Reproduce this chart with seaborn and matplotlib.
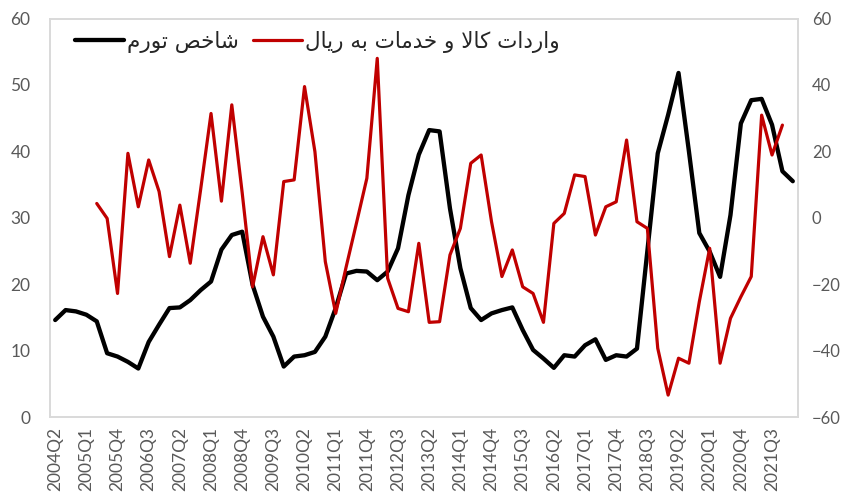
import numpy as np
import pandas as pd
import matplotlib
matplotlib.use("Agg")
import matplotlib.pyplot as plt
import seaborn as sns
from matplotlib.lines import Line2D

quarters = [
    "2004Q2", "2004Q3", "2004Q4",
    "2005Q1", "2005Q2", "2005Q3", "2005Q4",
    "2006Q1", "2006Q2", "2006Q3", "2006Q4",
    "2007Q1", "2007Q2", "2007Q3", "2007Q4",
    "2008Q1", "2008Q2", "2008Q3", "2008Q4",
    "2009Q1", "2009Q2", "2009Q3", "2009Q4",
    "2010Q1", "2010Q2", "2010Q3", "2010Q4",
    "2011Q1", "2011Q2", "2011Q3", "2011Q4",
    "2012Q1", "2012Q2", "2012Q3", "2012Q4",
    "2013Q1", "2013Q2", "2013Q3", "2013Q4",
    "2014Q1", "2014Q2", "2014Q3", "2014Q4",
    "2015Q1", "2015Q2", "2015Q3", "2015Q4",
    "2016Q1", "2016Q2", "2016Q3", "2016Q4",
    "2017Q1", "2017Q2", "2017Q3", "2017Q4",
    "2018Q1", "2018Q2", "2018Q3", "2018Q4",
    "2019Q1", "2019Q2", "2019Q3", "2019Q4",
    "2020Q1", "2020Q2", "2020Q3", "2020Q4",
    "2021Q1", "2021Q2", "2021Q3", "2021Q4",
    "2022Q1",
]

inflation = [
    14.6, 16.1, 15.9, 15.4, 14.4, 9.6, 9.1, 8.3, 7.3, 11.3,
    13.9, 16.4, 16.5, 17.6, 19.1, 20.4, 25.2, 27.4, 27.9, 19.9,
    15.1, 12.1, 7.6, 9.1, 9.3, 9.8, 12.1, 16.4, 21.6, 22.0,
    21.9, 20.6, 21.9, 25.4, 33.4, 39.5, 43.2, 43.0, 31.4, 22.4,
    16.4, 14.6, 15.6, 16.1, 16.5, 13.1, 10.1, 8.8, 7.4, 9.3,
    9.1, 10.8, 11.7, 8.6, 9.3, 9.1, 10.3, 25.0, 39.7, 45.5,
    51.8, 40.0, 27.7, 24.9, 21.1, 30.4, 44.2, 47.7, 47.9, 44.0,
    37.0, 35.5,
]

imports_rial = [
    np.nan, np.nan, np.nan, np.nan,
    4.3, -0.2, -22.8, 19.4, 3.3, 17.4, 7.9, -11.7, 3.8, -13.7,
    8.5, 31.4, 5.0, 34.0, 7.5, -20.8, -5.7, -17.2, 10.9, 11.4,
    39.5, 19.9, -13.2, -28.8, -14.9, -1.6, 11.9, 48.0, -18.2, -27.3,
    -28.3, -7.7, -31.5, -31.3, -11.2, -3.2, 16.4, 18.9, -1.2, -17.7,
    -9.7, -20.8, -22.8, -31.5, -1.7, 1.3, 12.9, 12.4, -5.2, 3.3,
    4.8, 23.4, -1.2, -3.2, -39.3, -53.4, -42.3, -43.8, -25.3, -9.2,
    -43.8, -30.3, -23.8, -17.7, 30.9, 18.9, 27.9,
    np.nan,
]

label_inflation = "شاخص تورم"
label_imports = "واردات کالا و خدمات به ریال"

left_ticks = [0, 10, 20, 30, 40, 50, 60]
right_ticks = [-60, -40, -20, 0, 20, 40, 60]


def shape_arabic(text):
    forms = {
        "ا": ("\uFE8D", "\uFE8E", None, None),
        "ب": ("\uFE8F", "\uFE90", "\uFE91", "\uFE92"),
        "ت": ("\uFE95", "\uFE96", "\uFE97", "\uFE98"),
        "خ": ("\uFEA5", "\uFEA6", "\uFEA7", "\uFEA8"),
        "د": ("\uFEA9", "\uFEAA", None, None),
        "ر": ("\uFEAD", "\uFEAE", None, None),
        "ش": ("\uFEB5", "\uFEB6", "\uFEB7", "\uFEB8"),
        "ص": ("\uFEB9", "\uFEBA", "\uFEBB", "\uFEBC"),
        "ل": ("\uFEDD", "\uFEDE", "\uFEDF", "\uFEE0"),
        "م": ("\uFEE1", "\uFEE2", "\uFEE3", "\uFEE4"),
        "ه": ("\uFEE9", "\uFEEA", "\uFEEB", "\uFEEC"),
        "و": ("\uFEED", "\uFEEE", None, None),
        "ک": ("\uFB8E", "\uFB8F", "\uFB90", "\uFB91"),
        "ی": ("\uFBFC", "\uFBFD", "\uFBFE", "\uFBFF"),
        "LA": ("\uFEFB", "\uFEFC", None, None),
    }
    toks = []
    i = 0
    while i < len(text):
        if text[i] == "ل" and i + 1 < len(text) and text[i + 1] == "ا":
            toks.append("LA")
            i += 2
        else:
            toks.append(text[i])
            i += 1
    out = []
    for k, t in enumerate(toks):
        if t not in forms:
            out.append(t)
            continue
        iso, fin, ini, med = forms[t]
        prev = toks[k - 1] if k > 0 else None
        nxt = toks[k + 1] if k + 1 < len(toks) else None
        pc = prev in forms and forms[prev][2] is not None
        nc = ini is not None and nxt in forms
        if pc and nc:
            out.append(med)
        elif pc:
            out.append(fin)
        elif nc:
            out.append(ini)
        else:
            out.append(iso)
    return "".join(reversed(out))


df = pd.DataFrame({
    "pos": np.arange(len(quarters)),
    "quarter": quarters,
    "inflation": inflation,
    "imports": imports_rial,
})

sns.set_theme(style="white")
plt.rcParams["font.family"] = ["Lato", "DejaVu Sans"]

fig = plt.figure(figsize=(8.43, 5.01), dpi=100)
ax = fig.add_axes([50 / 843, 1 - 417 / 501, 748 / 843, 398.5 / 501])
ax2 = ax.twinx()

black = "#000000"
red = "#C00000"
sns.lineplot(data=df, x="pos", y="inflation", ax=ax, color=black, linewidth=3.1, legend=False)
sns.lineplot(data=df.dropna(), x="pos", y="imports", ax=ax2, color=red, linewidth=2.3, legend=False)

ax.set_xlim(-0.5, len(quarters) - 0.5)
ax.set_ylim(0, 60)
ax2.set_ylim(-60, 60)
ax.set_yticks(left_ticks)
ax2.set_yticks(right_ticks)

tick_pos = list(range(0, len(quarters), 3))
ax.set_xticks(tick_pos)
ax.set_xticklabels([quarters[p] for p in tick_pos], rotation=90)

tick_color = "#595959"
for a in (ax, ax2):
    a.set_xlabel("")
    a.set_ylabel("")
    a.tick_params(axis="both", length=0, colors=tick_color, labelsize=12.5)
    for s in a.spines.values():
        s.set_color("#D9D9D9")
        s.set_linewidth(1.2)
ax.tick_params(axis="y", pad=14)
ax2.tick_params(axis="y", pad=10, labelsize=12)
ax.tick_params(axis="x", pad=7)
ax.grid(False)
ax2.grid(False)

handles = [
    Line2D([], [], color=black, linewidth=3.1),
    Line2D([], [], color=red, linewidth=2.3),
]
labels = [shape_arabic(label_inflation), shape_arabic(label_imports)]
leg = ax.legend(handles, labels, loc="center left", bbox_to_anchor=(0.0334, 0.941),
                ncol=2, frameon=False, handlelength=2.3, handletextpad=0.12,
                columnspacing=0.65, borderpad=0, borderaxespad=0,
                prop={"family": "DejaVu Sans", "size": 15.5})
for t in leg.get_texts():
    t.set_color("#262626")

fig.savefig("out.png", dpi=100)
